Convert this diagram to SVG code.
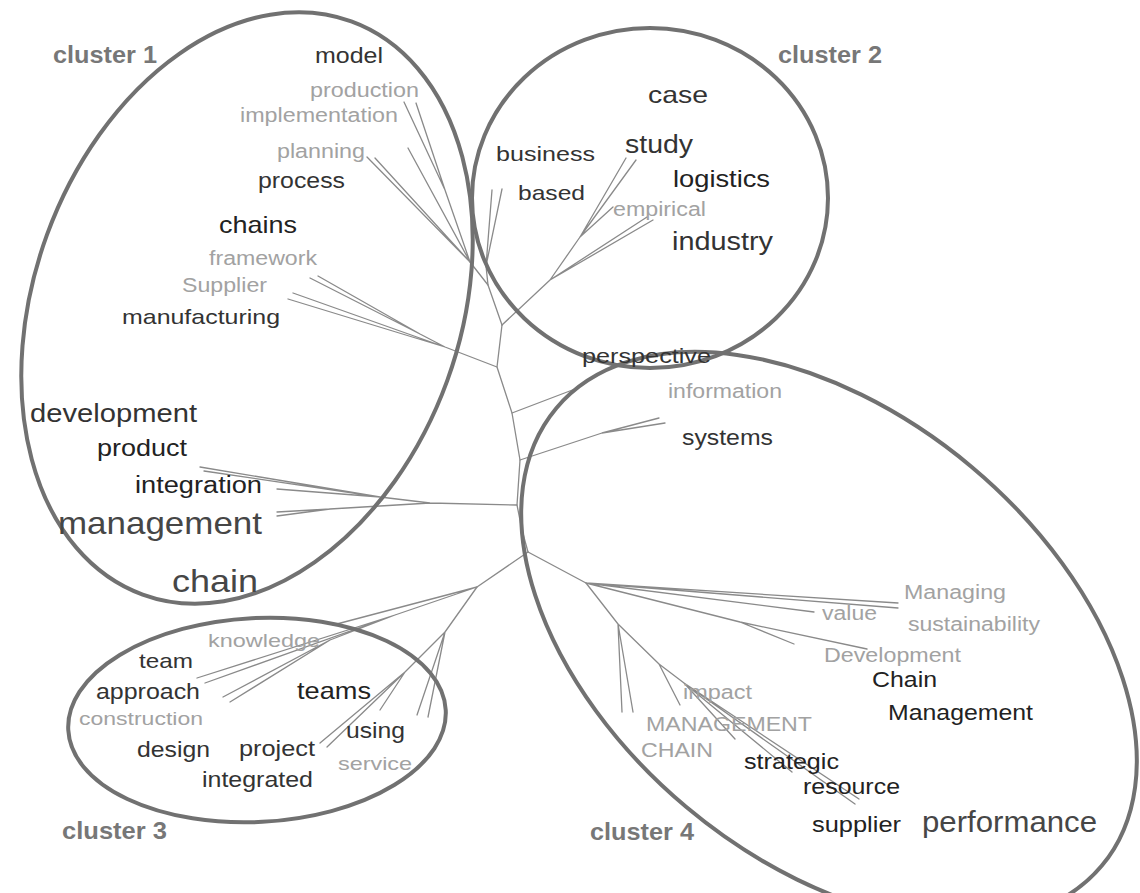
<svg xmlns="http://www.w3.org/2000/svg" width="1140" height="893" viewBox="0 0 1140 893">
<style>
.bg{fill:#ffffff}
.br{fill:none;stroke:#8a8a8a;stroke-width:1.3;stroke-linecap:round;stroke-linejoin:round}
.cl{fill:none;stroke:#717171;stroke-width:4}
text{font-family:"Liberation Sans",Arial,sans-serif}
.d{fill:#333333}
.k{fill:#222222}
.m{fill:#464646}
.l{fill:#a2a2a2}
.lab{fill:#777777;font-weight:bold;font-size:24px}
</style>
<rect class="bg" x="0" y="0" width="1140" height="893"/>
<g id="connectors">
<path class="br" d="M502,325 L497,367 L512,413 L520,460 L517,505 L522,530 L528,552"/>
<path class="br" d="M502,325 L488,285 L470,262"/>
<path class="br" d="M470,262 L445,190 L404,102 M445,190 L416,103 M470,262 L408,148 M470,262 L367,157 M470,262 L375,158"/>
<path class="br" d="M488,285 L486,266 L492,190 M486,266 L502,189"/>
<path class="br" d="M497,367 L445,347 L420,334 L318,276 M420,334 L310,278 M445,347 L293,293 M445,347 L288,299"/>
<path class="br" d="M512,413 L575,389"/>
<path class="br" d="M520,460 L602,433 L659,418 M602,433 L665,423"/>
<path class="br" d="M517,505 L430,503 L380,497 L200,467 M380,497 L204,471 M380,497 L277,489 M430,503 L330,509 L277,512 M330,509 L277,516"/>
<path class="br" d="M502,325 L550,280 L580,237 L626,158 M580,237 L636,160 M580,237 L613,207 M550,280 L653,220 M550,280 L647,217"/>
<path class="br" d="M528,552 L586,583 L898,603 M586,583 L898,608 M586,583 L814,612 M586,583 L740,622 L794,644 M740,622 L867,649"/>
<path class="br" d="M586,583 L618,624 L622,712 M618,624 L633,712 M618,624 L659,664 L680,705 M659,664 L684,683 L735,739 M684,683 L792,772 M684,683 L855,804 M684,683 L859,799"/>
<path class="br" d="M528,552 L477,587 L333,625 M477,587 L395,615 L197,678 M395,615 L205,683 M395,615 L330,640 L223,697 M330,640 L230,702"/>
<path class="br" d="M477,587 L445,632 L428,717 M445,632 L417,715 M445,632 L405,672 L380,710 M405,672 L320,743 M405,672 L327,747"/>
</g>
<g id="cluster1">
<ellipse class="cl" cx="247" cy="308" rx="305" ry="213" transform="rotate(-70 247 308)"/>
<text class="lab" x="53" y="63" textLength="104" lengthAdjust="spacingAndGlyphs">cluster 1</text>
</g>
<g id="cluster2">
<ellipse class="cl" cx="650" cy="198" rx="178" ry="170"/>
<text class="lab" x="778" y="63" textLength="104" lengthAdjust="spacingAndGlyphs">cluster 2</text>
</g>
<g id="cluster3">
<ellipse class="cl" cx="257" cy="720" rx="189" ry="102" transform="rotate(-3 257 720)"/>
<text class="lab" x="62" y="839" textLength="105" lengthAdjust="spacingAndGlyphs">cluster 3</text>
</g>
<g id="cluster4">
<ellipse class="cl" cx="829" cy="637" rx="356" ry="222" transform="rotate(40 829 637)"/>
<text class="lab" x="590" y="840" textLength="104" lengthAdjust="spacingAndGlyphs">cluster 4</text>
</g>
<g id="w-model"><text class="d" x="315" y="63" font-size="22" textLength="68" lengthAdjust="spacingAndGlyphs">model</text></g>
<g id="w-production"><text class="l" x="310" y="97" font-size="20" textLength="109" lengthAdjust="spacingAndGlyphs">production</text></g>
<g id="w-implementation"><text class="l" x="240" y="122" font-size="20" textLength="158" lengthAdjust="spacingAndGlyphs">implementation</text></g>
<g id="w-planning"><text class="l" x="277" y="158" font-size="20" textLength="88" lengthAdjust="spacingAndGlyphs">planning</text></g>
<g id="w-process"><text class="d" x="258" y="188" font-size="22" textLength="87" lengthAdjust="spacingAndGlyphs">process</text></g>
<g id="w-chains"><text class="k" x="219" y="233" font-size="24" textLength="78" lengthAdjust="spacingAndGlyphs">chains</text></g>
<g id="w-framework"><text class="l" x="209" y="265" font-size="20" textLength="108" lengthAdjust="spacingAndGlyphs">framework</text></g>
<g id="w-Supplier"><text class="l" x="182" y="292" font-size="20" textLength="85" lengthAdjust="spacingAndGlyphs">Supplier</text></g>
<g id="w-manufacturing"><text class="d" x="122" y="324" font-size="21" textLength="158" lengthAdjust="spacingAndGlyphs">manufacturing</text></g>
<g id="w-development"><text class="d" x="30" y="422" font-size="25" textLength="167" lengthAdjust="spacingAndGlyphs">development</text></g>
<g id="w-product"><text class="k" x="97" y="456" font-size="24" textLength="90" lengthAdjust="spacingAndGlyphs">product</text></g>
<g id="w-integration"><text class="k" x="135" y="493" font-size="23" textLength="127" lengthAdjust="spacingAndGlyphs">integration</text></g>
<g id="w-management"><text class="m" x="58" y="534" font-size="32" textLength="204" lengthAdjust="spacingAndGlyphs">management</text></g>
<g id="w-chain"><text class="m" x="172" y="592" font-size="32" textLength="86" lengthAdjust="spacingAndGlyphs">chain</text></g>
<g id="w-case"><text class="d" x="648" y="103" font-size="24" textLength="60" lengthAdjust="spacingAndGlyphs">case</text></g>
<g id="w-business"><text class="d" x="496" y="161" font-size="21" textLength="99" lengthAdjust="spacingAndGlyphs">business</text></g>
<g id="w-study"><text class="d" x="625" y="153" font-size="25" textLength="68" lengthAdjust="spacingAndGlyphs">study</text></g>
<g id="w-logistics"><text class="k" x="673" y="187" font-size="24" textLength="97" lengthAdjust="spacingAndGlyphs">logistics</text></g>
<g id="w-based"><text class="d" x="518" y="200" font-size="21" textLength="67" lengthAdjust="spacingAndGlyphs">based</text></g>
<g id="w-empirical"><text class="l" x="613" y="216" font-size="20" textLength="93" lengthAdjust="spacingAndGlyphs">empirical</text></g>
<g id="w-industry"><text class="d" x="672" y="250" font-size="26" textLength="101" lengthAdjust="spacingAndGlyphs">industry</text></g>
<g id="w-perspective"><text class="d" x="582" y="363" font-size="21" textLength="129" lengthAdjust="spacingAndGlyphs">perspective</text></g>
<g id="w-information"><text class="l" x="668" y="398" font-size="20" textLength="114" lengthAdjust="spacingAndGlyphs">information</text></g>
<g id="w-systems"><text class="d" x="682" y="445" font-size="22" textLength="91" lengthAdjust="spacingAndGlyphs">systems</text></g>
<g id="w-Managing"><text class="l" x="904" y="599" font-size="20" textLength="102" lengthAdjust="spacingAndGlyphs">Managing</text></g>
<g id="w-value"><text class="l" x="822" y="620" font-size="20" textLength="55" lengthAdjust="spacingAndGlyphs">value</text></g>
<g id="w-sustainability"><text class="l" x="908" y="631" font-size="20" textLength="132" lengthAdjust="spacingAndGlyphs">sustainability</text></g>
<g id="w-Development"><text class="l" x="824" y="662" font-size="20" textLength="137" lengthAdjust="spacingAndGlyphs">Development</text></g>
<g id="w-Chain"><text class="k" x="872" y="687" font-size="22" textLength="65" lengthAdjust="spacingAndGlyphs">Chain</text></g>
<g id="w-Management"><text class="k" x="888" y="720" font-size="22" textLength="145" lengthAdjust="spacingAndGlyphs">Management</text></g>
<g id="w-impact"><text class="l" x="683" y="699" font-size="20" textLength="69" lengthAdjust="spacingAndGlyphs">impact</text></g>
<g id="w-MANAGEMENT"><text class="l" x="646" y="731" font-size="20" textLength="166" lengthAdjust="spacingAndGlyphs">MANAGEMENT</text></g>
<g id="w-CHAIN"><text class="l" x="641" y="757" font-size="20" textLength="72" lengthAdjust="spacingAndGlyphs">CHAIN</text></g>
<g id="w-strategic"><text class="k" x="744" y="769" font-size="22" textLength="95" lengthAdjust="spacingAndGlyphs">strategic</text></g>
<g id="w-resource"><text class="k" x="803" y="794" font-size="22" textLength="97" lengthAdjust="spacingAndGlyphs">resource</text></g>
<g id="w-supplier"><text class="k" x="812" y="832" font-size="22" textLength="89" lengthAdjust="spacingAndGlyphs">supplier</text></g>
<g id="w-performance"><text class="m" x="922" y="832" font-size="29" textLength="175" lengthAdjust="spacingAndGlyphs">performance</text></g>
<g id="w-knowledge"><text class="l" x="208" y="647" font-size="19" textLength="112" lengthAdjust="spacingAndGlyphs">knowledge</text></g>
<g id="w-team"><text class="d" x="139" y="668" font-size="21" textLength="54" lengthAdjust="spacingAndGlyphs">team</text></g>
<g id="w-approach"><text class="d" x="96" y="699" font-size="22" textLength="104" lengthAdjust="spacingAndGlyphs">approach</text></g>
<g id="w-construction"><text class="l" x="79" y="725" font-size="19" textLength="124" lengthAdjust="spacingAndGlyphs">construction</text></g>
<g id="w-teams"><text class="k" x="297" y="699" font-size="24" textLength="74" lengthAdjust="spacingAndGlyphs">teams</text></g>
<g id="w-using"><text class="d" x="346" y="738" font-size="22" textLength="59" lengthAdjust="spacingAndGlyphs">using</text></g>
<g id="w-design"><text class="d" x="137" y="757" font-size="22" textLength="73" lengthAdjust="spacingAndGlyphs">design</text></g>
<g id="w-project"><text class="d" x="239" y="756" font-size="22" textLength="76" lengthAdjust="spacingAndGlyphs">project</text></g>
<g id="w-service"><text class="l" x="338" y="770" font-size="19" textLength="74" lengthAdjust="spacingAndGlyphs">service</text></g>
<g id="w-integrated"><text class="d" x="202" y="787" font-size="22" textLength="111" lengthAdjust="spacingAndGlyphs">integrated</text></g>
</svg>
